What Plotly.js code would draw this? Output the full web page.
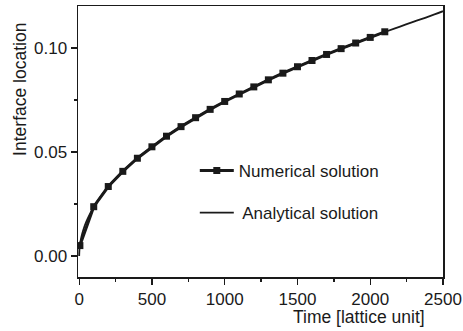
<!DOCTYPE html>
<html>
<head>
<meta charset="utf-8">
<script src="https://cdn.plot.ly/plotly-3.0.1.min.js"></script>
<style>html,body{margin:0;padding:0;background:#fff;}#chart{width:463px;height:331px;}</style>
</head>
<body>
<div id="chart"></div>
<script>
// Numerical solution (markers)
const numTime = [5, 100, 200, 300, 400, 500, 600, 700, 800, 900, 1000, 1100, 1200, 1300, 1400, 1500, 1600, 1700, 1800, 1900, 2000, 2100];
const numLoc  = [0.0050, 0.0237, 0.0334, 0.0407, 0.0470, 0.0525, 0.0576, 0.0622, 0.0665, 0.0705, 0.0743, 0.0779, 0.0813, 0.0847, 0.0879, 0.0910, 0.0940, 0.0969, 0.0997, 0.1024, 0.1051, 0.1078];
// Analytical solution (line)
const anaTime = [0, 2, 5, 10, 20, 30, 50, 75, 100, 150, 200, 250, 300, 400, 500, 600, 700, 800, 900, 1000, 1100, 1200, 1300, 1400, 1500, 1600, 1700, 1800, 1900, 2000, 2100, 2200, 2300, 2400, 2500];
const anaLoc  = [0.0000, 0.0033, 0.0053, 0.0074, 0.0105, 0.0129, 0.0166, 0.0204, 0.0235, 0.0288, 0.0332, 0.0372, 0.0407, 0.0470, 0.0525, 0.0576, 0.0622, 0.0665, 0.0705, 0.0743, 0.0779, 0.0814, 0.0847, 0.0879, 0.0910, 0.0940, 0.0969, 0.0997, 0.1024, 0.1051, 0.1077, 0.1102, 0.1127, 0.1151, 0.1177];
const xTicks = [0, 500, 1000, 1500, 2000, 2500];
const yTicks = [0.00, 0.05, 0.10];
const yTickText = ['0.00', '0.05', '0.10'];
const xTitle = 'Time [lattice unit]';
const yTitle = 'Interface location';

const ink = '#1a1a1a';
const fam = 'Liberation Sans, Arial, sans-serif';
const traces = [
  {x: numTime, y: numLoc, type: 'scatter', mode: 'lines+markers', name: 'Numerical solution',
   legendgroup: 'a',
   line: {color: ink, width: 3}, marker: {symbol: 'square', size: 7, color: ink}},
  {x: anaTime, y: anaLoc, type: 'scatter', mode: 'lines', name: '\u2009Analytical solution',
   legendgroup: 'b',
   line: {color: ink, width: 1.8, shape: 'spline'}}
];

const axisCommon = {
  showgrid: false, zeroline: false, showline: true, linecolor: ink, linewidth: 1.5,
  mirror: true, ticks: 'outside', ticklen: 6, tickwidth: 1.3, tickcolor: ink,
  tickfont: {family: fam, size: 17, color: ink}
};

const layout = {
  width: 463, height: 331,
  margin: {l: 78, r: 20, t: 6, b: 54},
  paper_bgcolor: '#fff', plot_bgcolor: '#fff',
  font: {family: fam, size: 17, color: ink},
  showlegend: true,
  legend: {x: 0.32, y: 0.458, xanchor: 'left', yanchor: 'top', bgcolor: 'rgba(0,0,0,0)',
           traceorder: 'grouped', tracegroupgap: 17, itemwidth: 34,
           font: {family: fam, size: 17, color: ink}},
  xaxis: Object.assign({}, axisCommon, {
    range: [-8, 2500], tickvals: xTicks, ticktext: xTicks.map(String),
    minor: {dtick: 250, tick0: 0, ticks: 'outside', ticklen: 3, tickwidth: 1.3, tickcolor: ink}
  }),
  yaxis: Object.assign({}, axisCommon, {
    range: [-0.0101, 0.1202], tickvals: yTicks, ticktext: yTickText,
    minor: {dtick: 0.025, tick0: 0, ticks: 'outside', ticklen: 3, tickwidth: 1.3, tickcolor: ink}
  }),
  annotations: [
    {text: xTitle, xref: 'paper', yref: 'paper', x: 0.955, y: 0, xanchor: 'right', yanchor: 'middle',
     yshift: -40, showarrow: false, font: {family: fam, size: 17.5, color: ink}},
    {text: yTitle, xref: 'paper', yref: 'paper', x: -0.159, y: 0.694, xanchor: 'center', yanchor: 'middle',
     textangle: -90, showarrow: false, font: {family: fam, size: 17.5, color: ink}}
  ]
};

Plotly.newPlot('chart', traces, layout, {displayModeBar: false, staticPlot: true});
</script>
</body>
</html>
